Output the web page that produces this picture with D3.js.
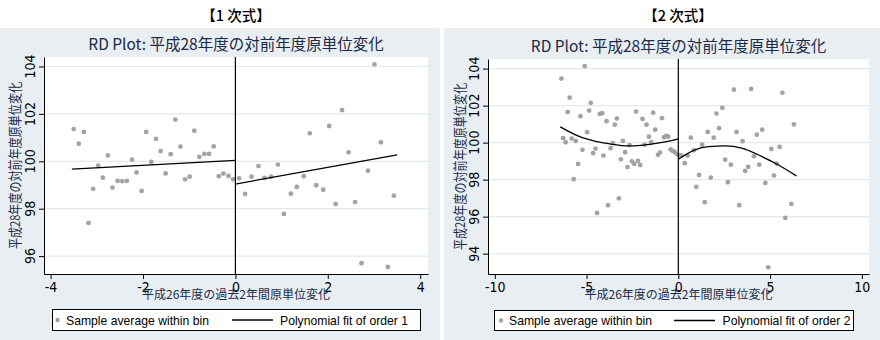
<!DOCTYPE html>
<html><head><meta charset="utf-8">
<script src="https://cdn.jsdelivr.net/npm/d3@7"></script>
<style>
html,body{margin:0;padding:0;background:#fff;}
svg{display:block;}
</style></head>
<body>
<svg id="c" width="880" height="340"></svg>
<script>
// ---------- data ----------
const headers = ["【1 次式】", "【2 次式】"];
const chartTitle = "RD Plot: 平成28年度の対前年度原単位変化";
const xTitle = "平成26年度の過去2年間原単位変化";
const yTitle = "平成28年度の対前年度原単位変化";
const legendDot = "Sample average within bin";
const legendFit = ["Polynomial fit of order 1", "Polynomial fit of order 2"];

const xTicks1 = [-4, -2, 0, 2, 4];
const yTicks1 = [96, 98, 100, 102, 104];
const xTicks2 = [-10, -5, 0, 5, 10];
const yTicks2 = [94, 96, 98, 100, 102, 104];

// panel 1 (order 1) bin averages
const bin1X = [-3.50,-3.39,-3.28,-3.18,-3.08,-2.97,-2.87,-2.76,-2.66,-2.55,-2.45,-2.35,-2.24,-2.14,-2.03,-1.93,-1.82,-1.72,-1.62,-1.51,-1.40,-1.30,-1.19,-1.09,-0.99,-0.89,-0.78,-0.67,-0.57,-0.47,-0.36,-0.26,-0.15,-0.05,
  0.08,0.21,0.35,0.50,0.63,0.77,0.92,1.05,1.20,1.33,1.48,1.61,1.75,1.90,2.03,2.17,2.31,2.45,2.59,2.73,2.87,3.01,3.15,3.30,3.43];
const bin1Y = [101.36,100.74,101.24,97.40,98.84,99.82,99.31,100.25,98.89,99.17,99.16,99.17,100.07,99.53,98.75,101.24,99.97,100.95,100.43,99.49,100.30,101.76,100.62,99.24,99.35,101.29,100.19,100.31,100.31,100.63,99.37,99.48,99.38,99.24,
  99.28,98.62,99.35,99.80,99.30,99.35,99.86,97.78,98.63,98.92,99.37,101.18,98.99,98.80,101.49,98.20,102.16,100.38,98.28,95.70,99.60,104.09,100.80,95.54,98.55];
// panel 1 fitted lines
const fit1LeftX = [-3.54, 0];
const fit1LeftY = [99.67, 100.04];
const fit1RightX = [0, 3.50];
const fit1RightY = [99.04, 100.27];

// panel 2 (order 2) bin averages
const bin2X = [-6.37,-6.28,-6.14,-6.03,-5.92,-5.81,-5.70,-5.59,-5.46,-5.33,-5.22,-5.10,-4.97,-4.86,-4.77,-4.64,-4.51,-4.43,-4.28,-4.15,-4.08,-3.91,-3.83,-3.69,-3.57,-3.46,-3.35,-3.24,-3.13,-3.02,-2.90,-2.77,-2.66,-2.53,-2.40,-2.30,-2.20,-2.08,-1.95,-1.84,-1.73,-1.60,-1.48,-1.37,-1.26,-1.11,-1.00,-0.89,-0.78,-0.66,-0.55,-0.42,-0.31,-0.20,-0.09,
  0.05,0.18,0.35,0.51,0.68,0.84,0.98,1.13,1.30,1.44,1.60,1.77,1.93,2.08,2.22,2.40,2.55,2.70,2.86,3.03,3.17,3.32,3.50,3.64,3.81,3.97,4.12,4.28,4.41,4.57,4.74,4.90,5.07,5.21,5.36,5.52,5.67,5.83,6.16,6.30];
const bin2Y = [103.46,100.24,100.02,101.66,102.43,100.22,98.02,100.09,98.85,101.43,99.61,104.13,100.56,101.73,102.15,99.43,99.68,96.20,101.55,101.59,99.30,101.16,96.62,99.70,99.97,100.97,101.30,96.99,99.10,100.09,99.48,98.68,99.86,98.99,98.85,101.68,99.01,98.79,101.28,99.89,100.97,100.32,100.02,101.62,100.70,99.34,99.46,101.32,100.29,100.36,100.32,99.64,99.55,99.50,99.38,
  99.32,99.30,98.89,99.30,100.27,99.59,97.61,98.25,99.89,96.78,100.58,98.11,100.27,101.57,100.78,101.88,99.08,97.86,98.81,102.86,100.58,96.62,100.08,98.47,98.69,102.90,99.26,100.43,98.81,100.70,97.82,93.26,99.66,98.22,98.86,99.77,102.69,95.93,96.69,100.99];
// panel 2 fitted curves
const fit2LeftX = [-6.43, -5.37, -4.50, -3.73, -2.64, -1.55, -0.64, 0];
const fit2LeftY = [100.85, 100.32, 100.07, 99.93, 99.82, 99.91, 100.05, 100.20];
const fit2RightX = [0, 0.91, 1.64, 2.55, 3.46, 4.56, 5.46, 6.43];
const fit2RightY = [99.10, 99.61, 99.78, 99.82, 99.70, 99.24, 98.79, 98.20];

// ---------- layout ----------
const BG = "#e8eef1", GRID = "#e1eaec", DOT = "#a3a3a3", NAVY = "#1b2a4a";
const panels = [
  { bx: 0, bw: 440, hx: 236, pl: 44, pr: 428, pt: 57, pb: 274, titleY: 49.5,
    xd: [-4.143, 4.169], yd: [95.245, 104.40], xt: xTicks1, yt: yTicks1,
    bx_: bin1X, by_: bin1Y, fits: [[fit1LeftX, fit1LeftY], [fit1RightX, fit1RightY]],
    lg: { x: 52, y: 309, w: 368, h: 21, dot: 57.5, t1: 66, l1: 232, l2: 273, t2: 280 },
    fitLabel: legendFit[0], header: headers[0], ylab: 34.5, ytitle: 20 },
  { bx: 444, bw: 436, hx: 678, pl: 488, pr: 869, pt: 59, pb: 274, titleY: 51.5,
    xd: [-10.37, 10.39], yd: [92.90, 104.52], xt: xTicks2, yt: yTicks2,
    bx_: bin2X, by_: bin2Y, fits: [[fit2LeftX, fit2LeftY], [fit2RightX, fit2RightY]],
    lg: { x: 494, y: 310, w: 359, h: 20, dot: 501, t1: 509, l1: 674, l2: 715, t2: 722.5 },
    fitLabel: legendFit[1], header: headers[1], ylab: 479, ytitle: 465 }
];

const svg = d3.select("#c");
const SANS = "'Liberation Sans', Arial, 'Noto Sans CJK JP', sans-serif";
const CJK = "'Noto Sans CJK JP', sans-serif";
const TICKF = "'Liberation Sans Narrow', 'DejaVu Sans Condensed', 'Liberation Sans', sans-serif";
const fmt = d => String(d);

panels.forEach(p => {
  const g = svg.append("g");
  g.append("rect").attr("x", p.bx).attr("y", 28).attr("width", p.bw).attr("height", 312).attr("fill", BG);
  g.append("text").attr("x", p.hx).attr("y", 20.5).attr("text-anchor", "middle")
    .attr("font-family", CJK).attr("font-size", 14.5).attr("font-weight", 500).attr("fill", "#000").text(p.header);
  g.append("text").attr("x", (p.pl + p.pr) / 2).attr("y", p.titleY).attr("text-anchor", "middle")
    .attr("font-family", CJK).attr("font-size", 15.5).attr("fill", NAVY).text(chartTitle);

  g.append("rect").attr("x", p.pl).attr("y", p.pt).attr("width", p.pr - p.pl).attr("height", p.pb - p.pt).attr("fill", "#fff");

  const x = d3.scaleLinear().domain(p.xd).range([p.pl, p.pr]);
  const y = d3.scaleLinear().domain(p.yd).range([p.pb, p.pt]);

  // grid
  g.append("g").selectAll("line").data(p.yt).join("line")
    .attr("x1", p.pl).attr("x2", p.pr).attr("y1", d => y(d)).attr("y2", d => y(d))
    .attr("stroke", GRID).attr("stroke-width", 1.2);

  // points
  g.append("g").selectAll("circle").data(p.bx_.map((v, i) => [v, p.by_[i]])).join("circle")
    .attr("cx", d => x(d[0])).attr("cy", d => y(d[1])).attr("r", 2.4).attr("fill", DOT);

  // cutoff line
  g.append("line").attr("x1", x(0)).attr("x2", x(0)).attr("y1", p.pt).attr("y2", p.pb)
    .attr("stroke", "#000").attr("stroke-width", 1.2);

  // fits
  const ln = d3.line().x(d => x(d[0])).y(d => y(d[1])).curve(d3.curveMonotoneX);
  p.fits.forEach(f => {
    g.append("path").attr("d", ln(f[0].map((v, i) => [v, f[1][i]])))
      .attr("fill", "none").attr("stroke", "#000").attr("stroke-width", 1.3);
  });

  // x axis
  const xa = g.append("g").attr("transform", `translate(0,${p.pb})`)
    .call(d3.axisBottom(x).tickValues(p.xt).tickFormat(fmt).tickSize(5).tickSizeOuter(0).tickPadding(3));
  xa.selectAll("text").attr("font-family", TICKF).attr("font-size", 14).attr("fill", "#000");
  // y axis
  const ya = g.append("g").attr("transform", `translate(${p.pl},0)`)
    .call(d3.axisLeft(y).tickValues(p.yt).tickFormat(fmt).tickSize(5).tickSizeOuter(0));
  ya.selectAll("text").remove();
  ya.selectAll("path,line").attr("stroke", "#000");
  xa.selectAll("path,line").attr("stroke", "#000");
  g.append("g").selectAll("text").data(p.yt).join("text")
    .attr("transform", d => `translate(${p.ylab},${y(d)}) rotate(-90)`)
    .attr("text-anchor", "middle").attr("font-family", TICKF).attr("font-size", 14).attr("fill", "#000")
    .text(fmt);

  // axis titles
  g.append("text").attr("x", (p.pl + p.pr) / 2).attr("y", 299).attr("text-anchor", "middle")
    .attr("font-family", CJK).attr("font-size", 12).attr("fill", NAVY).text(xTitle);
  g.append("text").attr("transform", `translate(${p.ytitle},${(p.pt + p.pb) / 2}) rotate(-90)`)
    .attr("text-anchor", "middle").attr("font-family", CJK).attr("font-size", 13.5)
    .attr("textLength", 167).attr("lengthAdjust", "spacingAndGlyphs")
    .attr("fill", NAVY).text(yTitle);

  // legend
  const L = p.lg;
  g.append("rect").attr("x", L.x + 0.5).attr("y", L.y + 0.5).attr("width", L.w).attr("height", L.h)
    .attr("fill", "#fff").attr("stroke", "#000").attr("stroke-width", 1);
  const cy = L.y + L.h / 2 + 0.5;
  g.append("circle").attr("cx", L.dot).attr("cy", cy).attr("r", 2.2).attr("fill", DOT);
  g.append("text").attr("x", L.t1).attr("y", cy + 4.5).attr("font-family", SANS).attr("font-size", 12.2)
    .attr("fill", "#000").text(legendDot);
  g.append("line").attr("x1", L.l1).attr("x2", L.l2).attr("y1", cy).attr("y2", cy).attr("stroke", "#000").attr("stroke-width", 1.3);
  g.append("text").attr("x", L.t2).attr("y", cy + 4.5).attr("font-family", SANS).attr("font-size", 12.2)
    .attr("textLength", 128).attr("lengthAdjust", "spacingAndGlyphs")
    .attr("fill", "#000").text(p.fitLabel);
});
</script>
</body></html>
